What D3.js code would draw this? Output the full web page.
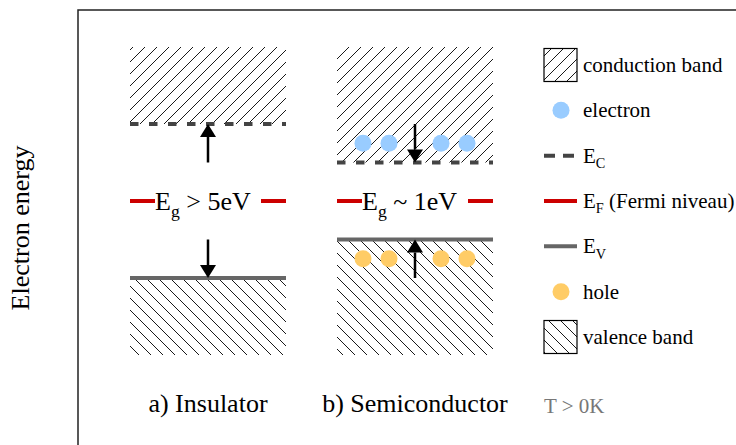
<!DOCTYPE html>
<html>

<head>
  <meta charset="utf-8">
  <script src="https://cdn.jsdelivr.net/npm/d3@7"></script>
  <style>
    body {
      margin: 0;
      background: white;
    }

    svg {
      display: block;
    }
  </style>
</head>

<body>
  <script>
    // energy levels in arbitrary units, Fermi level at 0
    const materials = ['a) Insulator', 'b) Semiconductor']
    const gapText = ['> 5eV', '~ 1eV']
    const conductionEdge = [2, 1]
    const valenceEdge = [-2, -1]
    const bandLimit = 4
    const fermiLevel = 0
    // carriers only in the semiconductor, 4 slots per band
    const carrierSlots = [[], [1, 2, 4, 5]]
    const electronLevel = [null, 1.5]
    const holeLevel = [null, -1.5]
    // arrows: [from, to] for conduction side and valence side
    const arrowsC = [[1, 2], [2, 1]]
    const arrowsV = [[-1, -2], [-2, -1]]
    const arrowSlot = 3

    const legendItems = ['conduction band', 'electron', 'E_C', 'E_F (Fermi niveau)', 'E_V', 'hole', 'valence band']

    const colors = {
      electron: '#99ccff',
      hole: '#ffcc66',
      ec: '#444444',
      ev: '#666666',
      fermi: '#cc0000'
    }

    const serif = 'Liberation Serif'

    const W = 736, H = 445
    const svg = d3.select('body').append('svg')
      .attr('width', W)
      .attr('height', H)

    const defs = svg.append('defs')
    function hatch(id, dir, size) {
      const p = defs.append('pattern')
        .attr('id', id)
        .attr('patternUnits', 'userSpaceOnUse')
        .attr('width', size)
        .attr('height', size)
      const d = dir > 0
        ? `M0,${size} L${size},0 M${-size / 2},${size / 2} L${size / 2},${-size / 2} M${size / 2},${size * 1.5} L${size * 1.5},${size / 2}`
        : `M0,0 L${size},${size} M${-size / 2},${size / 2} L${size / 2},${size * 1.5} M${size / 2},${-size / 2} L${size * 1.5},${size / 2}`
      p.append('path')
        .attr('d', d)
        .attr('stroke', 'black')
        .attr('stroke-width', 0.9)
    }
    hatch('hatchC', 1, 12)
    hatch('hatchV', -1, 12)

    const x = d3.scaleBand().domain(materials).range([130, 493]).paddingInner(0.2464).paddingOuter(0)
    const y = d3.scaleLinear().domain([-bandLimit, bandLimit]).range([355, 47])
    const slot = d3.scaleLinear().domain([0, 6]).range([0, x.bandwidth()])

    // frame
    svg.append('path')
      .attr('d', `M78,${H} L78,10 L${W},10`)
      .attr('fill', 'none')
      .attr('stroke', '#222')
      .attr('stroke-width', 1.5)

    svg.append('text')
      .attr('transform', `translate(29,228) rotate(-90)`)
      .attr('text-anchor', 'middle')
      .attr('font-family', serif)
      .attr('font-size', 26)
      .text('Electron energy')

    function arrow(g, cx, from, to) {
      const y0 = y(from), y1 = y(to)
      const dir = y1 > y0 ? 1 : -1
      const head = 13, half = 8
      g.append('line')
        .attr('x1', cx).attr('x2', cx)
        .attr('y1', y0).attr('y2', y1 - dir * head)
        .attr('stroke', 'black')
        .attr('stroke-width', 2.5)
      g.append('path')
        .attr('d', `M${cx},${y1} L${cx - half},${y1 - dir * head} L${cx + half},${y1 - dir * head} Z`)
        .attr('fill', 'black')
    }

    function subText(sel, main, sub, rest, size) {
      sel.append('tspan').text(main)
      sel.append('tspan').attr('font-size', size * 0.68).attr('dy', size * 0.25).text(sub)
      if (rest) sel.append('tspan').attr('dy', -size * 0.25).text(rest)
    }

    materials.forEach((m, i) => {
      const g = svg.append('g')
      const x0 = x(m), bw = x.bandwidth()

      // conduction band
      g.append('rect')
        .attr('x', x0).attr('y', y(bandLimit))
        .attr('width', bw).attr('height', y(conductionEdge[i]) - y(bandLimit))
        .attr('fill', 'url(#hatchC)')
      // valence band
      g.append('rect')
        .attr('x', x0).attr('y', y(valenceEdge[i]))
        .attr('width', bw).attr('height', y(-bandLimit) - y(valenceEdge[i]))
        .attr('fill', 'url(#hatchV)')

      g.selectAll('.el').data(carrierSlots[i]).join('circle')
        .attr('cx', d => x0 + slot(d))
        .attr('cy', y(electronLevel[i]))
        .attr('r', 8.5)
        .attr('fill', colors.electron)
      g.selectAll('.ho').data(carrierSlots[i]).join('circle')
        .attr('cx', d => x0 + slot(d))
        .attr('cy', y(holeLevel[i]))
        .attr('r', 8.5)
        .attr('fill', colors.hole)

      g.append('line')
        .attr('x1', x0).attr('x2', x0 + bw)
        .attr('y1', y(conductionEdge[i])).attr('y2', y(conductionEdge[i]))
        .attr('stroke', colors.ec)
        .attr('stroke-width', 4)
        .attr('stroke-dasharray', '8.5,10.5')
      g.append('line')
        .attr('x1', x0).attr('x2', x0 + bw)
        .attr('y1', y(valenceEdge[i])).attr('y2', y(valenceEdge[i]))
        .attr('stroke', colors.ev)
        .attr('stroke-width', 4)

      arrow(g, x0 + slot(arrowSlot), arrowsC[i][0], arrowsC[i][1])
      arrow(g, x0 + slot(arrowSlot), arrowsV[i][0], arrowsV[i][1])

      // Fermi level markers and gap label
      const yf = y(fermiLevel)
      g.append('line')
        .attr('x1', x0).attr('x2', x0 + 25)
        .attr('y1', yf).attr('y2', yf)
        .attr('stroke', colors.fermi).attr('stroke-width', 4)
      g.append('line')
        .attr('x1', x0 + bw - 25).attr('x2', x0 + bw)
        .attr('y1', yf).attr('y2', yf)
        .attr('stroke', colors.fermi).attr('stroke-width', 4)
      const t = g.append('text')
        .attr('x', x0 + 25)
        .attr('y', yf + 9)
        .attr('font-family', serif)
        .attr('font-size', 26)
      subText(t, 'E', 'g', ' ' + gapText[i], 26)

      g.append('text')
        .attr('x', x0 + bw / 2)
        .attr('y', 412)
        .attr('text-anchor', 'middle')
        .attr('font-family', serif)
        .attr('font-size', 26)
        .text(m)
    })

    // legend
    const ly = d3.scalePoint().domain(legendItems).range([65, 337])
    const lx = 544, ls = 33
    legendItems.forEach(item => {
      const cy = ly(item)
      const g = svg.append('g')
      if (item === 'conduction band' || item === 'valence band') {
        g.append('rect')
          .attr('x', lx).attr('y', cy - ls / 2)
          .attr('width', ls).attr('height', ls)
          .attr('fill', item === 'conduction band' ? 'url(#hatchC)' : 'url(#hatchV)')
          .attr('stroke', 'black')
          .attr('stroke-width', 1.2)
      } else if (item === 'electron' || item === 'hole') {
        g.append('circle')
          .attr('cx', lx + 17).attr('cy', cy)
          .attr('r', 8.5)
          .attr('fill', item === 'electron' ? colors.electron : colors.hole)
      } else {
        const c = item === 'E_C' ? colors.ec : item === 'E_V' ? colors.ev : colors.fermi
        g.append('line')
          .attr('x1', lx).attr('x2', item === 'E_C' ? lx + 30 : lx + 33)
          .attr('y1', cy).attr('y2', cy)
          .attr('stroke', c)
          .attr('stroke-width', 4)
          .attr('stroke-dasharray', item === 'E_C' ? '11,8' : null)
      }
      const t = g.append('text')
        .attr('x', 583)
        .attr('y', cy + 7)
        .attr('font-family', serif)
        .attr('font-size', 21)
      if (item.startsWith('E_')) {
        const sub = item.slice(2, 3)
        const rest = item.slice(3)
        subText(t, 'E', sub, rest, 21)
      } else {
        t.text(item)
      }
    })

    svg.append('text')
      .attr('x', 544)
      .attr('y', 413)
      .attr('font-family', serif)
      .attr('font-size', 21)
      .attr('fill', '#777')
      .text('T > 0K')
  </script>
</body>

</html>
